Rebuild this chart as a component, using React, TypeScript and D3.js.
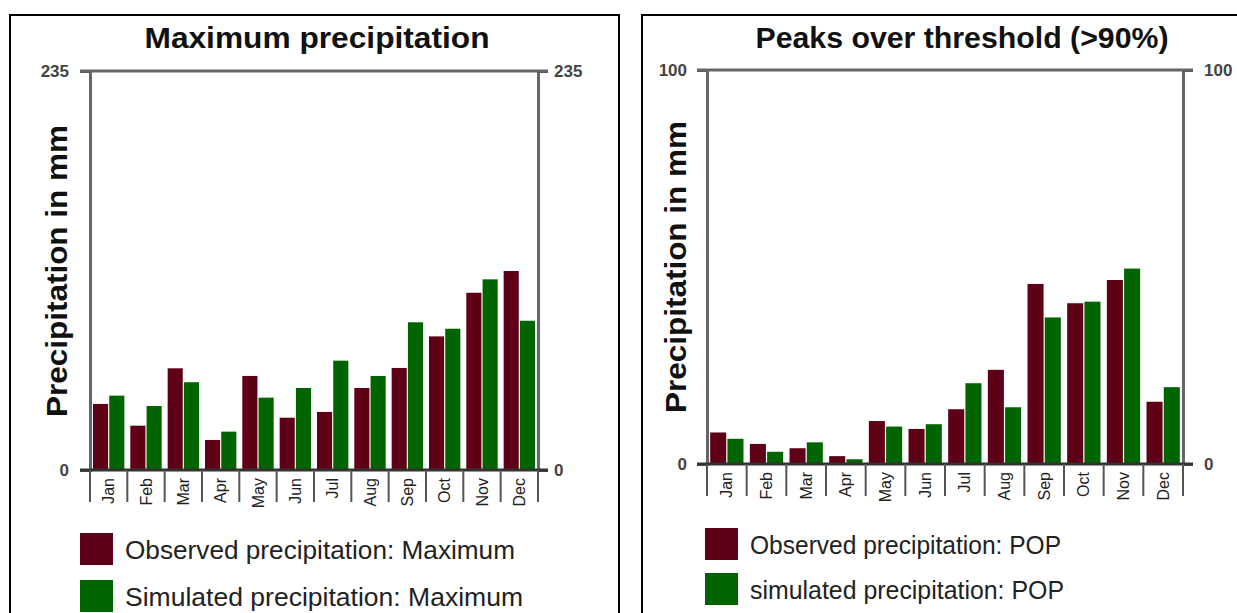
import { useRef, useEffect } from "react";
import * as d3 from "d3";

const months = ["Jan", "Feb", "Mar", "Apr", "May", "Jun", "Jul", "Aug", "Sep", "Oct", "Nov", "Dec"];

// Maximum precipitation (mm)
const maxObserved = [38.9, 26.1, 59.9, 17.7, 55.4, 30.8, 34.2, 48.3, 60.1, 78.7, 104.4, 117.2];
const maxSimulated = [43.8, 37.7, 51.7, 22.6, 42.6, 48.3, 64.4, 55.4, 87.0, 83.2, 112.3, 87.9];

// Peaks over threshold (>90%)
const popObserved = [8.0, 5.1, 4.0, 2.0, 10.9, 8.9, 13.9, 23.9, 45.7, 40.8, 46.7, 15.8];
const popSimulated = [6.4, 3.1, 5.5, 1.2, 9.5, 10.1, 20.5, 14.4, 37.2, 41.2, 49.6, 19.5];

const maxTicks = [0, 235];
const popTicks = [0, 100];

const OBS = "#5e0016";
const SIM = "#006400";
const FONT = "'Liberation Sans', Arial, sans-serif";

export default function App() {
  const ref = useRef(null);

  function init() {
    const width = 1237;
    const height = 613;
    d3.select(ref.current).selectAll("*").remove();

    const svg = d3
      .select(ref.current)
      .append("svg")
      .attr("width", width)
      .attr("height", height)
      .style("position", "absolute")
      .style("left", 0)
      .style("top", 0)
      .style("background", "#fff")
      .attr("font-family", FONT);

    const panels = [
      {
        title: "Maximum precipitation",
        titleLen: 345,
        observed: maxObserved,
        simulated: maxSimulated,
        ticks: maxTicks,
        legend: ["Observed precipitation: Maximum", "Simulated precipitation: Maximum"],
        legendLen: [390, 398],
        frame: [10, 619],
        x0: 90,
        x1: 538,
        top: 71,
        base: 470,
        titleX: 317,
        yTitleX: 57,
        yTitleY: 271,
        padL: 11,
        padR: 6,
        legendX: 80,
        legendY: [533, 580],
      },
      {
        title: "Peaks over threshold (>90%)",
        titleLen: 413,
        observed: popObserved,
        simulated: popSimulated,
        ticks: popTicks,
        legend: ["Observed precipitation: POP", "simulated precipitation: POP"],
        legendLen: [311, 314],
        frame: [642, 1260],
        x0: 707,
        x1: 1183,
        top: 70,
        base: 464,
        titleX: 962,
        yTitleX: 676,
        yTitleY: 267,
        padL: 10,
        padR: 11,
        legendX: 705,
        legendY: [528, 573],
      },
    ];

    panels.forEach((p) => {
      const g = svg.append("g");

      // panel frame
      g.append("rect")
        .attr("x", p.frame[0])
        .attr("y", 15)
        .attr("width", p.frame[1] - p.frame[0])
        .attr("height", 640)
        .attr("fill", "none")
        .attr("stroke", "#000")
        .attr("stroke-width", 2);

      const x = d3.scaleBand().domain(months).range([p.x0, p.x1]).paddingInner(0.16).paddingOuter(0.08);
      const xs = d3.scaleBand().domain(["obs", "sim"]).range([0, x.bandwidth()]).paddingInner(0.07);
      const yMax = p.ticks[p.ticks.length - 1];
      const y = d3.scaleLinear().domain([0, yMax]).range([p.base, p.top]);

      // title
      g.append("text")
        .attr("x", p.titleX)
        .attr("y", 48)
        .attr("text-anchor", "middle")
        .attr("font-weight", "bold")
        .attr("font-size", 29)
        .attr("textLength", p.titleLen)
        .attr("lengthAdjust", "spacingAndGlyphs")
        .attr("fill", "#111")
        .text(p.title);

      // y title
      g.append("text")
        .attr("transform", `translate(${p.yTitleX},${p.yTitleY}) rotate(-90)`)
        .attr("text-anchor", "middle")
        .attr("dominant-baseline", "central")
        .attr("font-weight", "bold")
        .attr("font-size", 29)
        .attr("textLength", 292)
        .attr("lengthAdjust", "spacingAndGlyphs")
        .attr("fill", "#111")
        .text("Precipitation in mm");

      // bars
      const rows = months.map((m, i) => ({ m, obs: p.observed[i], sim: p.simulated[i] }));
      const grp = g
        .selectAll("g.grp")
        .data(rows)
        .join("g")
        .attr("class", "grp")
        .attr("transform", (d) => `translate(${x(d.m)},0)`);
      grp
        .selectAll("rect")
        .data((d) => [
          { k: "obs", v: d.obs },
          { k: "sim", v: d.sim },
        ])
        .join("rect")
        .attr("x", (d) => xs(d.k))
        .attr("width", xs.bandwidth())
        .attr("y", (d) => y(d.v))
        .attr("height", (d) => y(0) - y(d.v))
        .attr("fill", (d) => (d.k === "obs" ? OBS : SIM));

      // y axes
      const left = g
        .append("g")
        .attr("transform", `translate(${p.x0},0)`)
        .call(d3.axisLeft(y).tickValues(p.ticks).tickSize(10).tickPadding(p.padL));
      const right = g
        .append("g")
        .attr("transform", `translate(${p.x1},0)`)
        .call(d3.axisRight(y).tickValues(p.ticks).tickSize(10).tickPadding(p.padR));
      [left, right].forEach((a) => {
        a.select(".domain").attr("stroke", "#666").attr("stroke-width", 3);
        a.selectAll(".tick line").attr("stroke", "#555").attr("stroke-width", 3);
        a.selectAll(".tick text")
          .attr("font-family", FONT)
          .attr("font-size", 17)
          .attr("font-weight", "bold")
          .attr("fill", "#444");
      });

      // top frame line and baseline
      g.append("line")
        .attr("x1", p.x0 - 10)
        .attr("x2", p.x1 + 10)
        .attr("y1", y(yMax))
        .attr("y2", y(yMax))
        .attr("stroke", "#666")
        .attr("stroke-width", 3);
      g.append("line")
        .attr("x1", p.x0 - 10)
        .attr("x2", p.x1 + 10)
        .attr("y1", y(0))
        .attr("y2", y(0))
        .attr("stroke", "#333")
        .attr("stroke-width", 3);

      // month separators
      const step = x.step();
      const edges = d3.range(months.length + 1).map((i) => p.x0 + i * step);
      g.selectAll("line.sep")
        .data(edges)
        .join("line")
        .attr("class", "sep")
        .attr("x1", (d) => d)
        .attr("x2", (d) => d)
        .attr("y1", y(0))
        .attr("y2", y(0) + 32)
        .attr("stroke", "#555")
        .attr("stroke-width", 2);

      // month labels
      g.selectAll("text.month")
        .data(months)
        .join("text")
        .attr("class", "month")
        .attr("transform", (d) => `translate(${x(d) + x.bandwidth() / 2},${y(0) + 8}) rotate(-90)`)
        .attr("text-anchor", "end")
        .attr("dominant-baseline", "central")
        .attr("font-size", 16)
        .attr("fill", "#222")
        .text((d) => d);

      // legend
      [OBS, SIM].forEach((c, i) => {
        g.append("rect")
          .attr("x", p.legendX)
          .attr("y", p.legendY[i])
          .attr("width", 33)
          .attr("height", 32)
          .attr("fill", c);
        g.append("text")
          .attr("x", p.legendX + 45)
          .attr("y", p.legendY[i] + 17)
          .attr("dominant-baseline", "central")
          .attr("font-size", 25)
          .attr("textLength", p.legendLen[i])
          .attr("lengthAdjust", "spacingAndGlyphs")
          .attr("fill", "#222")
          .text(p.legend[i]);
      });
    });
  }

  useEffect(init, []);
  return <div ref={ref}></div>;
}
